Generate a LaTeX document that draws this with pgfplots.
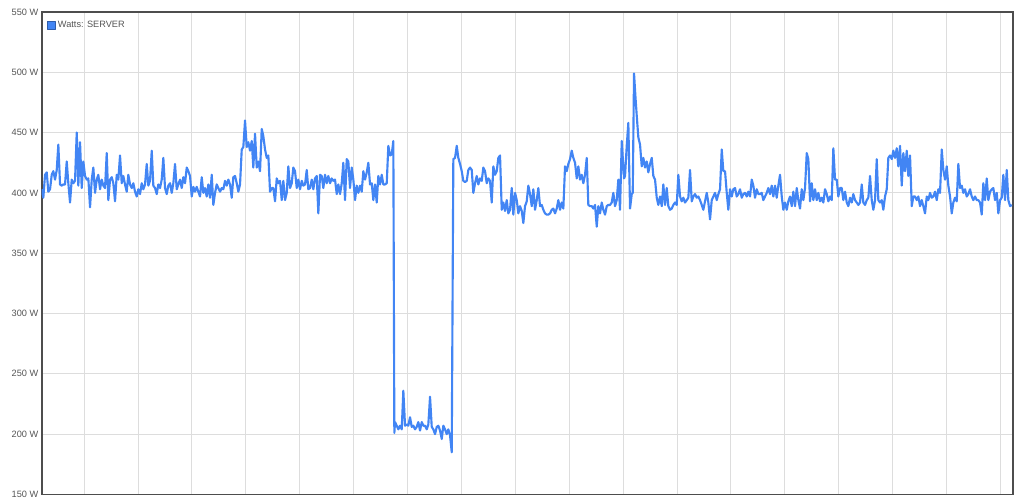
\documentclass[border=0pt]{standalone}
\usepackage{fontspec}
\setmainfont{Liberation Sans}
\usepackage{pgfplots}
\pgfplotsset{compat=1.18}
\definecolor{serverblue}{HTML}{4285F4}
\definecolor{framegray}{HTML}{4D4D4D}
\definecolor{gridgray}{HTML}{DDDDDD}
\definecolor{labelgray}{HTML}{555555}
\begin{document}
\begin{tikzpicture}
\useasboundingbox (0,0) rectangle (768pt,374.25pt);
\begin{axis}[
  at={(31.3pt,3.4pt)}, anchor=south west,
  scale only axis,
  width=728.25pt, height=361.9pt,
  xmin=41.7, xmax=1012.7,
  ymin=150, ymax=550,
  xtick={84,137.9,191.8,245.7,299.6,353.5,407.4,461.3,515.2,569.1,623,676.9,730.8,784.7,838.6,892.5,946.4,1000.3},
  xticklabels={},
  ytick={150,200,250,300,350,400,450,500,550},
  yticklabels={150 W,200 W,250 W,300 W,350 W,400 W,450 W,500 W,550 W},
  major tick length=0pt,
  grid=major,
  major grid style={gridgray, line width=0.6pt},
  axis line style={framegray, line width=1.2pt},
  yticklabel style={font=\fontsize{6.9}{8}\selectfont, text=labelgray, inner sep=0pt, xshift=-2.4pt},
  legend style={at={(0.005,0.988)}, anchor=north west, draw=none, fill=none,
    font=\fontsize{6.9}{8}\selectfont, text=labelgray, inner sep=0pt},
  legend cell align=left,
  legend image code/.code={\fill[serverblue, draw=serverblue!70!black, line width=0.3pt] (0pt,-3pt) rectangle (6pt,3pt);},
]
\addplot[serverblue, line width=1.6pt, line join=round, no markers] coordinates {
(41.7,403) (43.3,396) (45,415) (46.7,417) (48.3,401) (50,403) (51.7,415) (53.3,418) (55,411) (56.7,419)
(58.3,440) (60,407) (61.7,406) (63.3,407) (65,407) (66.7,426) (68.3,408) (70,392) (71.7,411) (73.3,408)
(75,410) (76.7,450) (78.3,406) (80,442) (81.7,404) (83.3,426) (85,414) (86.7,411) (88.3,412) (90,388)
(91.7,411) (93.3,421) (95,400) (96.7,411) (98.3,415) (100,403) (101.7,411) (103.3,406) (105,404) (106.7,433)
(108.3,394) (110,411) (111.7,413) (113.3,408) (115,393) (116.7,415) (118.3,411) (120,431) (121.7,408) (123.3,414)
(125,407) (126.7,401) (128.3,415) (130,407) (131.7,404) (133.3,408) (135,401) (136.7,397) (138.3,403) (140,399)
(141.7,408) (143.3,403) (145,407) (146.7,424) (148.3,406) (150,410) (151.7,435) (153.3,406) (155,404) (156.7,399)
(158.3,407) (160,404) (161.7,411) (163.3,429) (165,404) (166.7,399) (168.3,406) (170,408) (171.7,400) (173.3,408)
(175,424) (176.7,403) (178.3,407) (180,411) (181.7,404) (183.3,413) (185,408) (186.7,421) (188.3,418) (190,414)
(191.7,397) (193.3,405) (195,401) (196.7,405) (198.3,401) (200,397) (201.7,413) (203.3,400) (205,404) (206.7,397)
(208.3,407) (210,396) (211.7,415) (213.3,390) (215,400) (216.7,407) (218.3,404) (220,401) (221.7,404) (223.3,403)
(225,410) (226.7,406) (228.3,411) (230,407) (231.7,396) (233.3,413) (235,414) (236.7,408) (238.3,401) (240,407)
(241.7,436) (243.3,438) (245,460) (246.7,438) (248.3,442) (250,435) (251.7,443) (253.3,421) (255,449) (256.7,421)
(258.3,426) (260,418) (261.7,453) (263.3,447) (265,436) (266.7,429) (268.3,431) (270,401) (271.7,404) (273.3,404)
(275,393) (276.7,412) (278.3,408) (280,410) (281.7,394) (283.3,410) (285,394) (286.7,400) (288.3,422) (290,404)
(291.7,408) (293.3,421) (295,418) (296.7,404) (298.3,411) (300,403) (301.7,410) (303.3,406) (305,407) (306.7,419)
(308.3,403) (310,404) (311.7,411) (313.3,403) (315,412) (316.7,414) (318.3,383) (320,415) (321.7,414) (323.3,404)
(325,415) (326.7,408) (328.3,414) (330,408) (331.7,412) (333.3,410) (335,411) (336.7,399) (338.3,407) (340,399)
(341.7,408) (343.3,425) (345,394) (346.7,428) (348.3,426) (350,404) (351.7,421) (353.3,411) (355,394) (356.7,406)
(358.3,400) (360,406) (361.7,401) (363.3,418) (365,411) (366.7,417) (368.3,425) (370,407) (371.7,408) (373.3,394)
(375,407) (376.7,392) (378.3,414) (380,407) (381.7,415) (383.3,407) (385,407) (386.7,408) (388.3,439) (390,431)
(391.7,432) (393.3,443) (394.3,201) (395,210) (396.7,207) (398.3,204) (400,207) (401.7,204) (403.3,236) (405,207)
(406.7,208) (408.3,207) (410,214) (411.7,206) (413.3,207) (415,204) (416.7,206) (418.3,210) (420,203) (421.7,210)
(423.3,207) (425,207) (426.7,204) (428.3,208) (430,231) (431.7,206) (433.3,204) (435,200) (436.7,206) (438.3,207)
(440,203) (441.7,196) (443.3,207) (445,204) (446.7,200) (448.3,204) (450,199) (451.7,185) (453.3,428) (455,429)
(456.7,439) (458.3,429) (460,424) (461.7,418) (463.3,410) (465,409) (466.7,410) (468.3,419) (470,421) (471.7,419)
(473.3,400) (475,408) (476.7,414) (478.3,407) (480,412) (481.7,410) (483.3,421) (485,418) (486.7,408) (488.3,412)
(490,410) (491.7,392) (493.3,422) (495,415) (496.7,418) (498.3,429) (500,431) (501.7,386) (503.3,392) (505,385)
(506.7,394) (508.3,383) (510,386) (511.7,404) (513.3,382) (515,400) (516.7,394) (518.3,383) (520,389) (521.7,385)
(523.3,375) (525,389) (526.7,393) (528.3,406) (530,399) (531.7,389) (533.3,403) (535,386) (536.7,394) (538.3,404)
(540,389) (541.7,390) (543.3,386) (545,383) (546.7,382) (548.3,382) (550,383) (551.7,386) (553.3,387) (555,383)
(556.7,387) (558.3,394) (560,386) (561.7,392) (563.3,387) (565,422) (566.7,418) (568.3,424) (570,428) (571.7,435)
(573.3,429) (575,425) (576.7,412) (578.3,422) (580,411) (581.7,415) (583.3,408) (585,415) (586.7,429) (588.3,390)
(590,389) (591.7,389) (593.3,387) (595,390) (596.7,372) (598.3,389) (600,383) (601.7,392) (603.3,386) (605,382)
(606.7,389) (608.3,390) (610,390) (611.7,392) (613.3,400) (615,389) (616.7,394) (618.3,411) (620,386) (621.7,443)
(624,412) (625,414) (626.7,439) (628.3,458) (630,387) (631.7,399) (632.7,400) (634,499) (635.3,481) (636.7,464)
(638.3,446) (640,440) (641.7,422) (643.3,429) (645,421) (646.7,426) (648.3,417) (650,424) (651.7,429) (653.3,414)
(655,411) (656.7,396) (658.3,390) (660,397) (661.7,389) (663.3,407) (665,390) (666.7,404) (668.3,389) (670,386)
(671.7,387) (673.3,390) (675,392) (676.7,390) (678.3,415) (680,397) (681.7,393) (683.3,396) (685,392) (686.7,394)
(688.3,396) (690,419) (691.7,393) (693.3,397) (695,399) (696.7,396) (698.3,397) (700,394) (701.7,390) (703.3,386)
(705,393) (706.7,400) (708.3,392) (710,378) (711.7,394) (713.3,397) (715,400) (716.7,394) (718.3,399) (720,403)
(721.7,436) (723.3,418) (725,418) (726.7,400) (728.3,386) (730,403) (731.7,397) (733.3,403) (735,404) (736.7,397)
(738.3,399) (740,403) (741.7,396) (743.3,399) (745,400) (746.7,397) (748.3,401) (750,397) (751.7,411) (753.3,406)
(755,396) (756.7,403) (758.3,399) (760,399) (761.7,400) (763.3,394) (765,397) (766.7,400) (768.3,404) (770,399)
(771.7,406) (773.3,397) (775,406) (776.7,396) (778.3,406) (780,415) (781.7,397) (783.3,386) (785,392) (786.7,386)
(788.3,393) (790,397) (791.7,389) (793.3,401) (795,389) (796.7,404) (798.3,394) (800,387) (801.7,403) (803.3,394)
(805,404) (806.7,433) (808.3,428) (810,393) (811.7,408) (813.3,394) (815,403) (816.7,394) (818.3,400) (820,393)
(821.7,396) (823.3,392) (825,403) (826.7,399) (828.3,393) (830,397) (831.7,394) (833.3,437) (835,411) (836.7,411)
(838.3,397) (840,404) (841.7,404) (843.3,394) (845,401) (846.7,392) (848.3,389) (850,396) (851.7,392) (853.3,399)
(855,394) (856.7,392) (858.3,390) (860,392) (861.7,407) (863.3,392) (865,390) (866.7,394) (868.3,396) (870,414)
(871.7,394) (873.3,386) (875,394) (876.7,428) (878.3,394) (880,392) (881.7,394) (883.3,386) (885,397) (886.7,403)
(888.3,429) (890,431) (891.7,428) (893.3,435) (895,429) (896.7,437) (898.3,422) (900,439) (901.7,406) (903.3,433)
(905,418) (906.7,435) (908.3,414) (910,431) (911.7,389) (913.3,397) (915,397) (916.7,394) (918.3,397) (920,389)
(921.7,394) (923.3,389) (925,383) (926.7,397) (928.3,394) (930,400) (931.7,396) (933.3,397) (935,401) (936.7,394)
(938.3,403) (940,400) (941.7,436) (943.3,419) (945,411) (946.7,422) (948.3,406) (950,397) (951.7,383) (953.3,392)
(955,396) (956.7,393) (958.3,424) (960,404) (961.7,406) (963.3,400) (965,403) (966.7,397) (968.3,399) (970,403)
(971.7,397) (973.3,394) (975,397) (976.7,394) (978.3,394) (980,392) (981.7,382) (983.3,408) (985,394) (986.7,412)
(988.3,394) (990,401) (991.7,403) (993.3,404) (995,394) (996.7,400) (998.3,383) (1000,394) (1001.7,396) (1003.3,415)
(1005,394) (1006.7,419) (1008.3,394) (1010,389) (1011.7,390)
};
\addlegendentry{Watts: SERVER}
\end{axis}
\end{tikzpicture}
\end{document}
